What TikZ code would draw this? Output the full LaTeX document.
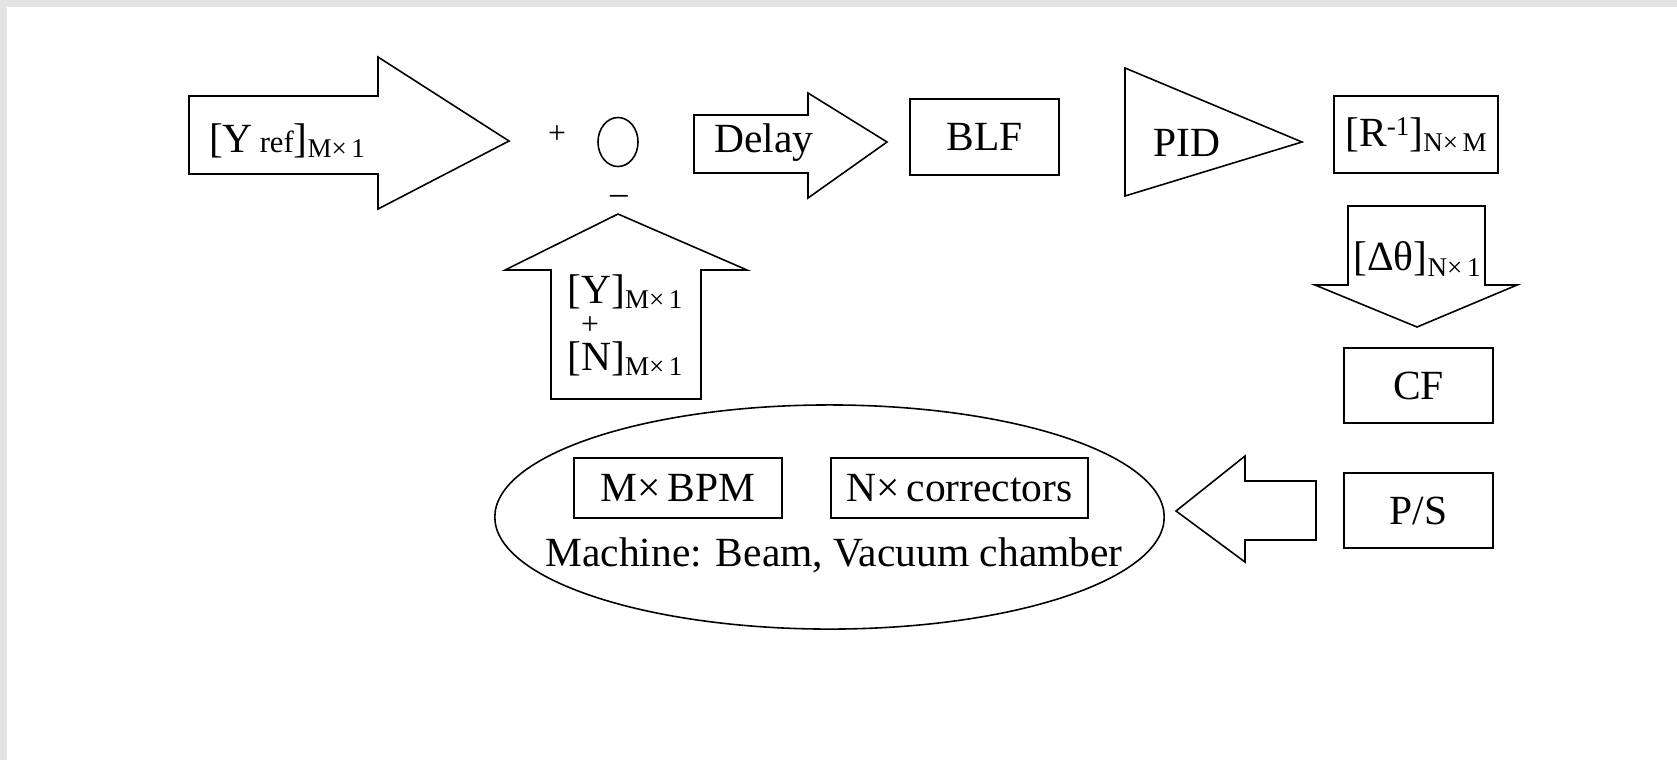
\documentclass[tikz,border=0pt]{standalone}
\usepackage{fontspec}
\setmainfont{Liberation Serif}
\usetikzlibrary{shapes.geometric}

\newcommand{\dimsub}[1]{\raisebox{-1.5pt}{\fontsize{7.7}{8}\selectfont #1}}
\newcommand{\dimsup}[1]{\raisebox{3.2pt}{\fontsize{7.7}{8}\selectfont #1}}
\newcommand{\smallpart}[1]{{\fontsize{8.7}{9}\selectfont #1}}

\begin{document}
\begin{tikzpicture}[
x=0.01cm, y=-0.01cm,
every node/.style={font=\fontsize{11.8}{13}\selectfont, inner sep=0pt},
outline/.style={draw, line width=0.45pt, line join=miter},
block/.style={draw, line width=0.45pt, minimum height=0.76cm},
sign/.style={font=\fontsize{9}{10}\selectfont}]

\useasboundingbox (0,0) rectangle (1677,760);
% textured frame at top and left
\fill[black!11] (0,0) rectangle (1677,7);
\fill[black!11] (0,0) rectangle (7,760);

% reference input
\draw[outline] (189,96) -- (378,96) -- (378,57) -- (509,141) -- (378,209) -- (378,174) -- (189,174) -- cycle;
\node (yref) at (287,141) {[Y\,\smallpart{ref}]\dimsub{M×\,1}};

% summing point
\node[sign] (plus) at (557,135) {+};
\node[draw, ellipse, line width=0.45pt, minimum width=0.40cm, minimum height=0.49cm] (sum) at (618,142) {};
\node[sign, font=\fontsize{10}{11}\selectfont] (minus) at (619,200) {–};

% measured orbit
\draw[outline] (551,399) -- (551,270) -- (505,270) -- (618,214) -- (747,270) -- (701,270) -- (701,399) -- cycle;
\node (meas) at (625,292) {[Y]\dimsub{M×\,1}};
\node[sign] (measplus) at (590,326) {+};
\node (noise) at (625,359) {[N]\dimsub{M×\,1}};

% forward path
\draw[outline] (694,115) -- (808,115) -- (808,93) -- (887,142) -- (808,198) -- (808,173) -- (694,173) -- cycle;
\node (delay) at (764,143) {Delay};
\node[block, minimum width=1.49cm] (blf) at (984.5,137) {BLF};

\draw[outline] (1125,68) -- (1302,142) -- (1125,196) -- cycle;
\node (pid) at (1187,143) {PID};
\node[block, minimum width=1.64cm, minimum height=0.77cm] (rinv) at (1416,134.5) {[R\dimsup{-1}]\dimsub{N×\,M}};

\draw[outline] (1348,206) -- (1485,206) -- (1485,285) -- (1517,285) -- (1417,327) -- (1315,285) -- (1348,285) -- cycle;
\node (dtheta) at (1417,259) {[Δθ]\dimsub{N×\,1}};

\node[block, minimum width=1.49cm, minimum height=0.75cm] (cf) at (1418.5,385.5) {CF};
\node[block, minimum width=1.49cm, minimum height=0.75cm] (ps) at (1418.5,510.5) {P/S};

\draw[outline] (1176,511) -- (1245,456) -- (1245,481) -- (1316,481) -- (1316,540) -- (1245,540) -- (1245,562) -- cycle;

% machine
\node[draw, ellipse, line width=0.45pt, minimum width=6.69cm, minimum height=2.24cm] (machine) at (829.5,517) {};
\node[block, minimum width=2.08cm, minimum height=0.60cm] (bpm) at (678,488) {M×\,BPM};
\node[block, minimum width=2.57cm, minimum height=0.60cm] (corr) at (959.5,488) {N×\,correctors};
\node (machinetext) at (834,555) {Machine: Beam, Vacuum chamber};
\end{tikzpicture}
\end{document}
